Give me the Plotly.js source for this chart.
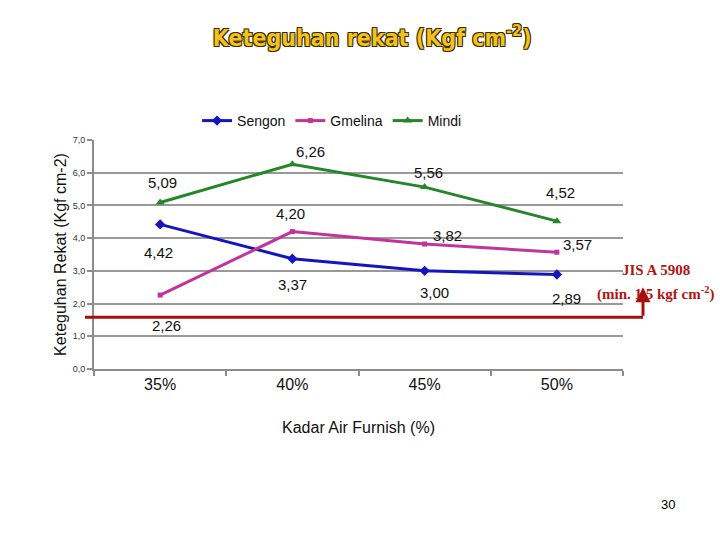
<!DOCTYPE html>
<html><head><meta charset="utf-8">
<script src="https://cdn.plot.ly/plotly-3.0.1.min.js"></script>
<style>body{margin:0;background:#fff}#c{width:720px;height:540px}</style>
</head><body><div id="c"></div>
<script>
const categories = ['35%', '40%', '45%', '50%'];
const sengon = [4.42, 3.37, 3.00, 2.89];
const gmelina = [2.26, 4.20, 3.82, 3.57];
const mindi = [5.09, 6.26, 5.56, 4.52];
const standardLine = 1.58;
const standardArrowTip = 2.5;

// label offsets (pixels) for each data label
const offSengon = [[-2, -28], [0, -26], [10, -22], [10, -24]];
const offGmelina = [[6, -30], [-2, 18], [23, 9], [21, 8]];
const offMindi = [[2, 20], [18, 13], [4, 15], [4, 29]];

const fmt = v => v.toFixed(2).replace('.', ',');

const series = [
  {name: 'Sengon', y: sengon, color: '#1515c0', symbol: 'diamond', size: 8, off: offSengon},
  {name: 'Gmelina', y: gmelina, color: '#c2349c', symbol: 'square', size: 5, off: offGmelina},
  {name: 'Mindi', y: mindi, color: '#25862a', symbol: 'triangle-up', size: 8, off: offMindi}
];

const traces = series.map(s => ({
  type: 'scatter', mode: 'lines+markers', name: s.name,
  x: categories, y: s.y,
  line: {color: s.color, width: 3},
  marker: {color: s.color, symbol: s.symbol, size: s.size}
}));

const annotations = [];
series.forEach(s => {
  s.y.forEach((v, i) => {
    annotations.push({
      x: categories[i], y: v, xref: 'x', yref: 'y', text: fmt(v), showarrow: false,
      xshift: s.off[i][0], yshift: s.off[i][1],
      font: {family: 'Liberation Sans, Arial, sans-serif', size: 15, color: '#111'}
    });
  });
});

annotations.push({
  xref: 'paper', yref: 'y', x: 1.0378, y: standardArrowTip, axref: 'paper', ayref: 'y', ax: 1.0378, ay: standardLine,
  showarrow: true, arrowhead: 2, arrowsize: 1, arrowwidth: 3, arrowcolor: '#a80c0c', text: ''
});
annotations.push({
  xref: 'paper', yref: 'paper', x: 1.062, y: 0.432, xanchor: 'center', yanchor: 'middle', showarrow: false,
  text: '<b>JIS A 5908</b>',
  font: {family: 'Liberation Serif, Times New Roman, serif', size: 15, color: '#b01414'}
});
annotations.push({
  xref: 'paper', yref: 'paper', x: 1.062, y: 0.33, xanchor: 'center', yanchor: 'middle', showarrow: false,
  text: '<b>(min. 1,5 kgf cm<sup>-2</sup>)</b>',
  font: {family: 'Liberation Serif, Times New Roman, serif', size: 15, color: '#b01414'}
});
annotations.push({
  xref: 'paper', yref: 'paper', x: 1.085, y: -0.59, xanchor: 'center', yanchor: 'middle', showarrow: false,
  text: '30', font: {family: 'Liberation Sans, Arial, sans-serif', size: 13, color: '#000'}
});

const layout = {
  width: 720, height: 540,
  margin: {l: 94, r: 97, t: 140, b: 171},
  paper_bgcolor: '#fff', plot_bgcolor: '#fff',
  separators: ',.',
  title: {
    text: 'Keteguhan rekat (Kgf cm<sup>-2</sup>)',
    x: 0.517, xanchor: 'center', y: 0.93, yanchor: 'middle',
    font: {family: 'DejaVu Sans Condensed, sans-serif', size: 23, weight: 700, color: '#f3c21a',
      shadow: '1px 1px 0 #3a2a00, -1px -1px 0 #3a2a00, 1px -1px 0 #3a2a00, -1px 1px 0 #3a2a00'}
  },
  showlegend: true,
  legend: {orientation: 'h', x: 0.45, xanchor: 'center', y: 1.083, yanchor: 'middle',
    font: {family: 'Liberation Sans, Arial, sans-serif', size: 14, color: '#111'}, itemwidth: 30, tracegroupgap: 0},
  xaxis: {
    type: 'category', range: [-0.5, 3.5], showgrid: false, zeroline: false,
    showline: true, linecolor: '#8c8c8c', linewidth: 2,
    ticks: 'outside', tickson: 'boundaries', ticklen: 5, tickcolor: '#8c8c8c', tickwidth: 2,
    tickfont: {family: 'Liberation Sans, Arial, sans-serif', size: 16, color: '#111'},
    title: {text: 'Kadar Air Furnish (%)', standoff: 30, font: {family: 'Liberation Sans, Arial, sans-serif', size: 16, color: '#111'}}
  },
  yaxis: {
    range: [0, 7], dtick: 1, tickformat: '.1f', showgrid: true, gridcolor: '#999', gridwidth: 2,
    zeroline: false, showline: true, linecolor: '#8c8c8c', linewidth: 2,
    ticks: 'outside', ticklen: 5, tickcolor: '#8c8c8c', tickwidth: 2,
    tickfont: {family: 'Liberation Sans, Arial, sans-serif', size: 9, color: '#333'},
    title: {text: 'Keteguhan Rekat (Kgf cm-2)', standoff: 2, font: {family: 'Liberation Sans, Arial, sans-serif', size: 16, color: '#111'}}
  },
  shapes: [{
    type: 'line', xref: 'paper', yref: 'y', x0: -0.017, x1: 1.0378, y0: standardLine, y1: standardLine,
    line: {color: '#a80c0c', width: 3}
  }],
  annotations: annotations
};

Plotly.newPlot('c', traces, layout, {displayModeBar: false});
</script></body></html>
